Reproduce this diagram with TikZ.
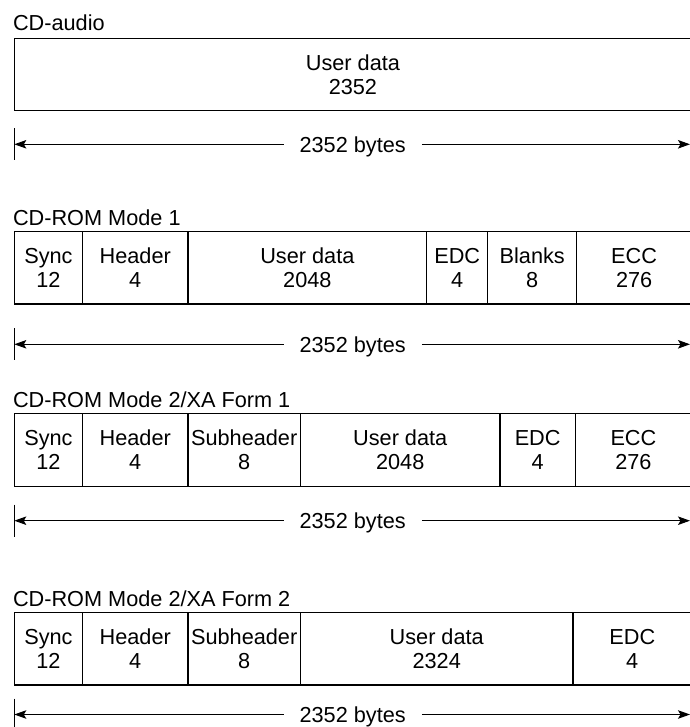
\documentclass[tikz,border=0pt]{standalone}
\usepackage{fontspec}
\setmainfont{Liberation Sans}
\usetikzlibrary{arrows.meta}
\begin{document}
\begin{tikzpicture}[x=1bp,y=-1bp,
  every node/.style={font=\fontsize{21.7bp}{24bp}\selectfont, text=black},
  cell/.style={draw=black, line width=1.15bp, inner sep=0pt, outer sep=0pt, anchor=north west, align=center},
  title/.style={anchor=base west, inner sep=0pt, outer sep=0pt},
  dim/.style={inner xsep=16bp, inner ysep=0pt, outer sep=0pt, text height=15.5bp, text depth=0pt},
  arr/.style={line width=1bp, -{Stealth[length=12bp,width=8.5bp,inset=2.5bp]}},
  tickline/.style={line width=1bp}]
\useasboundingbox (0,0) rectangle (690,727);

% ---------- CD-audio ----------
\node[title] (t0) at (13,31) {CD-audio};
\node[cell, minimum width=677.2bp, minimum height=72.4bp] (a1) at (14.3,38.3) {User data\\2352};
\coordinate (l0) at (14.3,144.3);
\coordinate (r0) at (690,144.3);
\node[dim] (d0) at (352.7,144.3) {2352 bytes};
\draw[arr] (d0.west) -- (l0);
\draw[arr] (d0.east) -- (r0);
\draw[tickline] ([yshift=16bp]l0) -- ([yshift=-16bp]l0);

% ---------- CD-ROM Mode 1 ----------
\node[title] (t1) at (13,225.5) {CD-ROM Mode 1};
\node[cell, minimum width=68.2bp, minimum height=72.3bp] (m1a) at (14.3,231.7) {Sync\\12};
\node[cell, minimum width=105.5bp, minimum height=72.3bp] (m1b) at (m1a.north east) {Header\\4};
\node[cell, minimum width=238.7bp, minimum height=72.3bp] (m1c) at (m1b.north east) {User data\\2048};
\node[cell, minimum width=61bp, minimum height=72.3bp] (m1d) at (m1c.north east) {EDC\\4};
\node[cell, minimum width=89bp, minimum height=72.3bp] (m1e) at (m1d.north east) {Blanks\\8};
\node[cell, minimum width=114.8bp, minimum height=72.3bp] (m1f) at (m1e.north east) {ECC\\276};
\coordinate (l1) at (14.3,344.3);
\coordinate (r1) at (690,344.3);
\node[dim] (d1) at (352.7,344.3) {2352 bytes};
\draw[arr] (d1.west) -- (l1);
\draw[arr] (d1.east) -- (r1);
\draw[tickline] ([yshift=16bp]l1) -- ([yshift=-16bp]l1);

% ---------- CD-ROM Mode 2/XA Form 1 ----------
\node[title] (t2) at (13,407.8) {CD-ROM Mode 2/XA Form 1};
\node[cell, minimum width=68.2bp, minimum height=73.4bp] (f1a) at (14.3,413.3) {Sync\\12};
\node[cell, minimum width=105.5bp, minimum height=73.4bp] (f1b) at (f1a.north east) {Header\\4};
\node[cell, minimum width=112.4bp, minimum height=73.4bp] (f1c) at (f1b.north east) {Subheader\\8};
\node[cell, minimum width=199.6bp, minimum height=73.4bp] (f1d) at (f1c.north east) {User data\\2048};
\node[cell, minimum width=75.3bp, minimum height=73.4bp] (f1e) at (f1d.north east) {EDC\\4};
\node[cell, minimum width=116.2bp, minimum height=73.4bp] (f1f) at (f1e.north east) {ECC\\276};
\coordinate (l2) at (14.3,520.7);
\coordinate (r2) at (690,520.7);
\node[dim] (d2) at (352.7,520.7) {2352 bytes};
\draw[arr] (d2.west) -- (l2);
\draw[arr] (d2.east) -- (r2);
\draw[tickline] ([yshift=16bp]l2) -- ([yshift=-16bp]l2);

% ---------- CD-ROM Mode 2/XA Form 2 ----------
\node[title] (t3) at (13,606) {CD-ROM Mode 2/XA Form 2};
\node[cell, minimum width=68.2bp, minimum height=72.5bp] (f2a) at (14.3,612.5) {Sync\\12};
\node[cell, minimum width=105.5bp, minimum height=72.5bp] (f2b) at (f2a.north east) {Header\\4};
\node[cell, minimum width=112.4bp, minimum height=72.5bp] (f2c) at (f2b.north east) {Subheader\\8};
\node[cell, minimum width=272.6bp, minimum height=72.5bp] (f2d) at (f2c.north east) {User data\\2324};
\node[cell, minimum width=118.5bp, minimum height=72.5bp] (f2e) at (f2d.north east) {EDC\\4};
\coordinate (l3) at (14.3,714.5);
\coordinate (r3) at (690,714.5);
\node[dim] (d3) at (352.7,714.5) {2352 bytes};
\draw[arr] (d3.west) -- (l3);
\draw[arr] (d3.east) -- (r3);
\draw[tickline] ([yshift=16bp]l3) -- ([yshift=-16bp]l3);
\end{tikzpicture}
\end{document}
